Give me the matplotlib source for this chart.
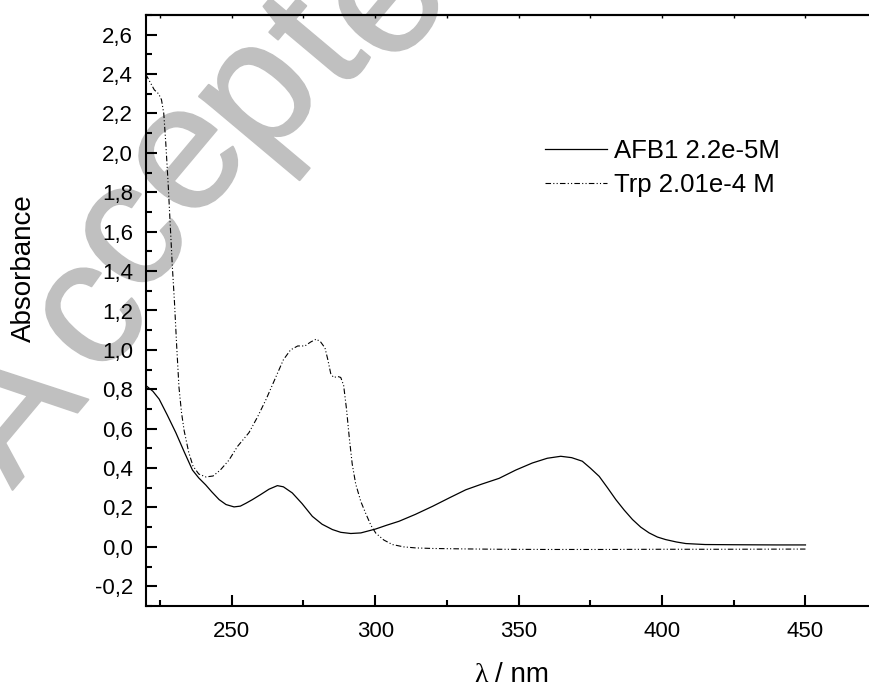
import numpy as np
import matplotlib
matplotlib.use("Agg")
import matplotlib.pyplot as plt
import matplotlib.patheffects as pe
from matplotlib.ticker import FuncFormatter, MultipleLocator

plt.rcParams['font.family'] = ['Liberation Sans', 'DejaVu Sans']

# AFB1 2.2e-5 M (solid)
afb1_nm = [220, 222.5, 224.7, 227.5, 230.5, 233.5, 236.3, 238.5, 240.9, 243,
           245.6, 248, 250.8, 253, 255, 257.2, 260, 263, 265.9, 268,
           271.1, 274.5, 278.1, 281.5, 285.1, 288, 291.5, 295, 300.2, 304,
           308.3, 314, 320, 326, 331.6, 337, 343.2, 349, 354.8, 360,
           364.7, 368.5, 372.2, 375, 378.1, 381, 383.9, 386.8, 389.7, 392.6,
           395.5, 398.4, 401.3, 405, 408.3, 415, 425, 440, 450]
afb1_abs = [0.82, 0.79, 0.75, 0.67, 0.58, 0.48, 0.39, 0.35, 0.315, 0.28,
            0.24, 0.215, 0.203, 0.207, 0.222, 0.24, 0.265, 0.293, 0.311, 0.305,
            0.274, 0.22, 0.155, 0.115, 0.088, 0.074, 0.068, 0.071, 0.091, 0.11,
            0.13, 0.165, 0.206, 0.25, 0.29, 0.318, 0.348, 0.39, 0.426, 0.45,
            0.46, 0.453, 0.435, 0.40, 0.358, 0.30, 0.24, 0.187, 0.139, 0.10,
            0.071, 0.05, 0.037, 0.025, 0.017, 0.012, 0.011, 0.010, 0.010]

# Trp 2.01e-4 M (dash-dot-dot)
trp_nm = [220, 221.5, 223, 224.5, 225.5, 226.3, 227, 227.8, 228.5, 229.3,
          230, 230.8, 231.6, 232.5, 233.4, 235, 236.5, 238.5, 241, 243.5,
          246, 249, 252, 256, 259, 262, 265, 268, 270.5, 273,
          275.5, 277.5, 279.5, 281, 282.5, 283.5, 284.5, 285.5, 287, 288,
          289, 290, 291, 292, 293.2, 295, 296.7, 298.5, 300.2, 303,
          306, 310, 314, 320, 330, 343, 360, 380, 400, 420, 450]
trp_abs = [2.40, 2.36, 2.32, 2.30, 2.27, 2.20, 2.05, 1.85, 1.65, 1.42,
           1.25, 1.02, 0.81, 0.68, 0.59, 0.48, 0.41, 0.37, 0.355, 0.36,
           0.39, 0.44, 0.51, 0.58, 0.66, 0.75, 0.85, 0.95, 1.00, 1.02,
           1.02, 1.04, 1.055, 1.04, 1.01, 0.95, 0.88, 0.86, 0.865, 0.86,
           0.82, 0.70, 0.55, 0.42, 0.32, 0.23, 0.17, 0.11, 0.07, 0.035,
           0.012, 0.0, -0.005, -0.008, -0.01, -0.012, -0.013, -0.013, -0.012, -0.012, -0.011]

labels = ['AFB1 2.2e-5M', 'Trp 2.01e-4 M']

W, H = 870, 688
fig = plt.figure(figsize=(W / 100, H / 100), dpi=100)

# "Accepted" watermark, one letter at a time (x-height centres in pixels)
wm_centres = [(15, 415), (92, 317), (132, 238), (188, 160), (260, 98),
              (320, 46), (388, 4), (455, -60)]
wm_size = 128
ang = np.deg2rad(50)
off = 0.26 * wm_size / 0.72
for ch, (cx, cy) in zip('Accepted', wm_centres):
    bx = cx + off * np.sin(ang)
    by = cy + off * np.cos(ang)
    fig.text(bx / W, 1 - by / H, ch, fontsize=wm_size, color='#c0c0c0',
             rotation=50, rotation_mode='anchor', ha='center', va='baseline',
             zorder=-5,
             path_effects=[pe.withStroke(linewidth=1.5, foreground='#c0c0c0')])

ax = fig.add_axes([145.7 / W, 1 - 606 / H, 1 - 145.7 / W, (606 - 15) / H])
ax.patch.set_alpha(0)

ax.plot(afb1_nm, afb1_abs, color='black', lw=0.9, label=labels[0])
ax.plot(trp_nm, trp_abs, color='black', lw=0.8,
        dashes=(5, 2, 1, 2, 1, 2), label=labels[1])

ax.set_xlim(220, 472.5)
ax.set_ylim(-0.3, 2.7)

ax.xaxis.set_major_locator(MultipleLocator(50))
ax.xaxis.set_minor_locator(MultipleLocator(25))
ax.yaxis.set_major_locator(MultipleLocator(0.2))
ax.yaxis.set_minor_locator(MultipleLocator(0.1))
ax.yaxis.set_major_formatter(FuncFormatter(lambda v, p: ('%.1f' % v).replace('.', ',').replace('-0,0', '0,0')))
ax.set_xticks([250, 300, 350, 400, 450])

ax.tick_params(which='both', direction='in', width=1.5, labelsize=16,
               top=False, right=False)
ax.tick_params(which='major', length=8)
ax.tick_params(which='minor', length=4.5)
ax.tick_params(axis='y', pad=9)
ax.tick_params(axis='x', pad=11)

for side in ['left', 'bottom', 'top']:
    ax.spines[side].set_linewidth(1.5)
ax.spines['right'].set_visible(False)

top = ax.secondary_xaxis('top')
top.set_xticks(np.arange(225, 475, 25))
top.tick_params(direction='in', length=2.5, width=1, labeltop=False)
top.spines['top'].set_linewidth(1.5)

fig.text(24 / W, 1 - 268 / H, 'Absorbance', rotation=90, fontsize=20,
         ha='center', va='center')
fig.text(481 / W, 1 - 682 / H, 'λ', fontsize=20, family='Liberation Serif',
         ha='center', va='baseline')
fig.text(495 / W, 1 - 682 / H, '/ nm', fontsize=20, ha='left', va='baseline')

ax.legend(loc='center left', bbox_to_anchor=(545 / W, 1 - 168 / H),
          bbox_transform=fig.transFigure, frameon=False, fontsize=18.5,
          handlelength=2.4, handletextpad=0.3, borderpad=0,
          borderaxespad=0, labelspacing=0.4)

fig.savefig('out.png', dpi=100)
